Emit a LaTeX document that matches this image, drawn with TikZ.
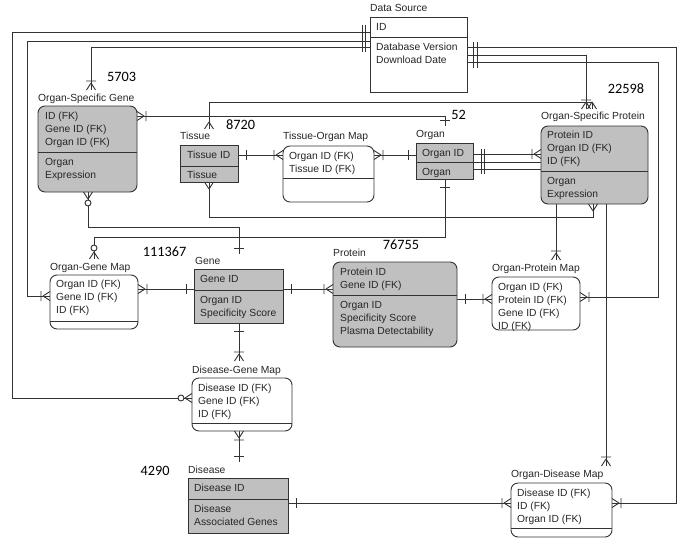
\documentclass[tikz,border=0pt]{standalone}
\usepackage{fontspec}
\setmainfont{Liberation Sans}
\newfontfamily\numfont{Carlito}
\pgfdeclarelayer{back}
\pgfdeclarelayer{bg}
\pgfsetlayers{back,bg,main}
\definecolor{entgray}{HTML}{C0C0C0}
\definecolor{ln}{HTML}{333333}
\begin{document}
\begin{tikzpicture}[x=1pt,y=-1pt,
  box/.style={draw=ln, line width=0.9pt, anchor=north west, inner sep=0pt, outer sep=0pt},
  gbox/.style={box, fill=entgray},
  wbox/.style={box, fill=white},
  rnd/.style={rounded corners=7pt},
  txt/.style={font=\fontsize{10.3}{13}\selectfont, align=left, inner sep=0pt, anchor=north west, text=black!85},
  lab/.style={font=\fontsize{10.3}{13}\selectfont, inner sep=0pt, anchor=west, text height=7.5pt, text depth=2pt, text=black!85},
  num/.style={font=\numfont\fontsize{14.3}{16}\selectfont, inner sep=0pt, text height=9pt, text depth=0pt},
  conn/.style={draw=ln, line width=0.9pt},
  mk/.style={draw=ln, line width=0.9pt},
  cf/.pic={\draw[mk] (7,0) -- (0,4.5) (7,0) -- (0,-4.5);},
  cfb/.pic={\draw[mk] (7,0) -- (0,4.5) (7,0) -- (0,-4.5) (9,-5) -- (9,5);},
  cfo/.pic={\draw[mk] (7,0) -- (0,4.5) (7,0) -- (0,-4.5); \draw[mk,fill=white] (11,0) circle (3pt);},
  onebar/.pic={\draw[mk] (8,-5) -- (8,5);},
  onebart/.pic={\draw[mk] (6,-5) -- (6,5);}
]
\useasboundingbox (0,0) rectangle (685,541);
\begin{pgfonlayer}{back}
\fill[white] (0,0) rectangle (685,541);
\end{pgfonlayer}

% ---------- entities ----------
\node[wbox, minimum width=97pt, minimum height=75pt] (ds) at (370,17) {};
\draw[mk] (ds.west |- 0,37) -- (ds.east |- 0,37);
\node[gbox, rnd, minimum width=99pt, minimum height=86pt] (osg) at (38,106) {};
\draw[mk] (osg.west |- 0,152) -- (osg.east |- 0,152);
\node[gbox, minimum width=58pt, minimum height=37pt] (tissue) at (180,145) {};
\draw[mk] (tissue.west |- 0,166) -- (tissue.east |- 0,166);
\node[wbox, rnd, minimum width=91pt, minimum height=56pt] (tom) at (283,146) {};
\draw[mk] (tom.west |- 0,178) -- (tom.east |- 0,178);
\node[gbox, minimum width=57pt, minimum height=36pt] (organ) at (416,143) {};
\draw[mk] (organ.west |- 0,162) -- (organ.east |- 0,162);
\node[wbox, rnd, minimum width=88pt, minimum height=54pt] (ogm) at (50,275) {};
\draw[mk] (ogm.west |- 0,321) -- (ogm.east |- 0,321);
\node[gbox, minimum width=89pt, minimum height=54pt] (gene) at (194,269) {};
\draw[mk] (gene.west |- 0,290) -- (gene.east |- 0,290);
\node[gbox, rnd, minimum width=124pt, minimum height=85pt] (protein) at (333,262) {};
\draw[mk] (protein.west |- 0,295) -- (protein.east |- 0,295);
\node[wbox, rnd, minimum width=88pt, minimum height=53pt] (opm) at (492,277) {};
\node[wbox, rnd, minimum width=100pt, minimum height=53pt] (dgm) at (192,378) {};
\draw[mk] (dgm.west |- 0,423) -- (dgm.east |- 0,423);
\node[gbox, minimum width=100pt, minimum height=55pt] (disease) at (188,478) {};
\draw[mk] (disease.west |- 0,499) -- (disease.east |- 0,499);
\node[wbox, rnd, minimum width=101pt, minimum height=54pt] (odm) at (511,483) {};
\draw[mk] (odm.west |- 0,528) -- (odm.east |- 0,528);
\node[gbox, rnd, minimum width=107pt, minimum height=78pt] (osp) at (541,126) {};
\draw[mk] (osp.west |- 0,171) -- (osp.east |- 0,171);

% ---------- titles ----------
\node[lab] (dsL) at (370,9) {Data Source};
\node[lab] (osgL) at (38,99) {Organ-Specific Gene};
\node[lab] (tisL) at (180,137) {Tissue};
\node[lab] (tomL) at (283,137) {Tissue-Organ Map};
\node[lab] (orgL) at (416,135) {Organ};
\node[lab] (ospL) at (541,117) {Organ-Specific Protein};
\node[lab] (ogmL) at (50,268) {Organ-Gene Map};
\node[lab] (genL) at (195,262) {Gene};
\node[lab] (proL) at (333,254) {Protein};
\node[lab] (opmL) at (492,269) {Organ-Protein Map};
\node[lab] (dgmL) at (192,371) {Disease-Gene Map};
\node[lab] (disL) at (188,471) {Disease};
\node[lab] (odmL) at (511,475) {Organ-Disease Map};

% ---------- attributes ----------
\node[txt] (dsk) at (376,21.6) {\strut ID};
\node[txt] (dsa) at (376,41.6) {\strut Database Version\\Download Date};
\node[txt] (osgk) at (45,110.6) {\strut ID (FK)\\Gene ID (FK)\\Organ ID (FK)};
\node[txt] (osga) at (45,156.6) {\strut Organ\\Expression};
\node[txt] (tisk) at (187,149.6) {\strut Tissue ID};
\node[txt] (tisa) at (187,169.6) {\strut Tissue};
\node[txt] (tomk) at (289,150.6) {\strut Organ ID (FK)\\Tissue ID (FK)};
\node[txt] (orgk) at (422,147.6) {\strut Organ ID};
\node[txt] (orga) at (422,166.6) {\strut Organ};
\node[txt] (ospk) at (547,129.6) {\strut Protein ID\\Organ ID (FK)\\ID (FK)};
\node[txt] (ospa) at (547,175.6) {\strut Organ\\Expression};
\node[txt] (ogmk) at (56,278.6) {\strut Organ ID (FK)\\Gene ID (FK)\\ID (FK)};
\node[txt] (genk) at (200,273.6) {\strut Gene ID};
\node[txt] (gena) at (200,294.6) {\strut Organ ID\\Specificity Score};
\node[txt] (prok) at (340,266.6) {\strut Protein ID\\Gene ID (FK)};
\node[txt] (proa) at (340,299.6) {\strut Organ ID\\Specificity Score\\Plasma Detectability};
\node[txt] (opmk) at (498,281.6) {\strut Organ ID (FK)\\Protein ID (FK)\\Gene ID (FK)\\ID (FK)};
\node[txt] (dgmk) at (198,382.6) {\strut Disease ID (FK)\\Gene ID (FK)\\ID (FK)};
\node[txt] (disk) at (194,482.6) {\strut Disease ID};
\node[txt] (disa) at (194,503.6) {\strut Disease\\Associated Genes};
\node[txt] (odmk) at (517,487.6) {\strut Disease ID (FK)\\ID (FK)\\Organ ID (FK)};

% ---------- counts ----------
\node[num] (n1) at (121.5,77) {5703};
\node[num] (n2) at (240.5,125) {8720};
\node[num] (n3) at (458.5,115) {52};
\node[num] (n4) at (626,89) {22598};
\node[num] (n5) at (164.5,252) {111367};
\node[num] (n6) at (401,245) {76755};
\node[num] (n7) at (155,471) {4290};

% ---------- attach points above titles ----------
\coordinate (osgT) at (91,90);
\coordinate (ospT1) at (586,109);
\coordinate (ospT2) at (592,109);
\coordinate (orgT) at (445,126);
\coordinate (tisT) at (209,129);
\coordinate (opmT) at (556,260);
\coordinate (odmT) at (606,466);
\coordinate (ogmT) at (94,259);
\coordinate (genT) at (239,254);
\coordinate (dgmT) at (239,361);
\coordinate (disT) at (239,462);

% ---------- connectors ----------
\begin{pgfonlayer}{bg}
\draw[conn] (ds.west |- 0,32) -- (12,32) -- (12,398) -- (dgm.west |- 0,398);
\draw[conn] (ds.west |- 0,41) -- (27,41) -- (27,296) -- (ogm.west |- 0,296);
\draw[conn] (ds.west |- 0,47) -- (91,47) -- (osgT);
\draw[conn] (ds.east |- 0,47) -- (676,47) -- (676,503) -- (odm.east |- 0,503);
\draw[conn] (ds.east |- 0,55) -- (586,55) -- (ospT1);
\draw[conn] (ds.east |- 0,62) -- (658,62) -- (658,297) -- (opm.east |- 0,297);
\draw[conn] (osg.east |- 0,116) -- (445,116) -- (orgT);
\draw[conn] (tisT) -- (209,102) -- (592,102) -- (ospT2);
\draw[conn] (tissue.south) -- (209,217) -- (593,217) -- (osp.south -| 593,0);
\draw[conn] (tissue.east |- 0,155) -- (tom.west |- 0,155);
\draw[conn] (tom.east |- 0,155) -- (organ.west |- 0,155);
\draw[conn] (organ.east |- 0,154) -- (osp.west |- 0,154);
\draw[conn] (organ.east |- 0,162) -- (556,162) -- (opmT);
\draw[conn] (organ.east |- 0,169) -- (606,169) -- (odmT);
\draw[conn] (organ.south -| 445,0) -- (445,237) -- (94,237) -- (ogmT);
\draw[conn] (osg.south -| 88,0) -- (88,227) -- (239,227) -- (genT);
\draw[conn] (ogm.east |- 0,289) -- (gene.west |- 0,289);
\draw[conn] (gene.east |- 0,289) -- (protein.west |- 0,289);
\draw[conn] (gene.south -| 239,0) -- (dgmT);
\draw[conn] (protein.east |- 0,299) -- (opm.west |- 0,299);
\draw[conn] (dgm.south -| 239,0) -- (disT);
\draw[conn] (disease.east |- 0,503) -- (odm.west |- 0,503);
\end{pgfonlayer}

% ---------- cardinality marks ----------
\draw[mk] (362,25) -- (362,52) (365,25) -- (365,52);
\draw[mk] (473,42) -- (473,68) (477,42) -- (477,68);
\draw[mk] (481,149) -- (481,174) (484,149) -- (484,174);
\pic[rotate=180] at (dgm.west |- 0,398) {cfo};
\pic[rotate=180] at (ogm.west |- 0,296) {cfb};
\pic[rotate=90] at (osgT) {cfb};
\pic at (odm.east |- 0,503) {cfb};
\pic[rotate=90] at (ospT1) {cfb};
\pic at (opm.east |- 0,297) {cfb};
\pic at (osg.east |- 0,116) {cfb};
\pic[rotate=90] at (orgT) {onebart};
\pic[rotate=90] at (tisT) {cf};
\pic[rotate=90] at (ospT2) {cf};
\pic[rotate=-90] at (tissue.south) {cf};
\pic[rotate=-90] at (osp.south -| 593,0) {cf};
\pic at (tissue.east |- 0,155) {onebar};
\pic[rotate=180] at (tom.west |- 0,155) {cfb};
\pic at (tom.east |- 0,155) {cfb};
\pic[rotate=180] at (organ.west |- 0,155) {onebar};
\pic[rotate=180] at (osp.west |- 0,154) {cfb};
\pic[rotate=90] at (opmT) {cfb};
\pic[rotate=90] at (odmT) {cfb};
\pic[rotate=-90] at (organ.south -| 445,0) {onebar};
\pic[rotate=90] at (ogmT) {cfo};
\pic[rotate=-90] at (osg.south -| 88,0) {cfo};
\pic[rotate=90] at (genT) {onebart};
\pic at (ogm.east |- 0,289) {cfb};
\pic[rotate=180] at (gene.west |- 0,289) {onebar};
\pic at (gene.east |- 0,289) {onebar};
\pic[rotate=180] at (protein.west |- 0,289) {cfb};
\pic[rotate=-90] at (gene.south -| 239,0) {onebar};
\pic[rotate=90] at (dgmT) {cfb};
\pic at (protein.east |- 0,299) {onebar};
\pic[rotate=180] at (opm.west |- 0,299) {cfb};
\pic[rotate=-90] at (dgm.south -| 239,0) {cfb};
\pic[rotate=90] at (disT) {onebart};
\pic at (disease.east |- 0,503) {onebar};
\pic[rotate=180] at (odm.west |- 0,503) {cfb};
\end{tikzpicture}
\end{document}
